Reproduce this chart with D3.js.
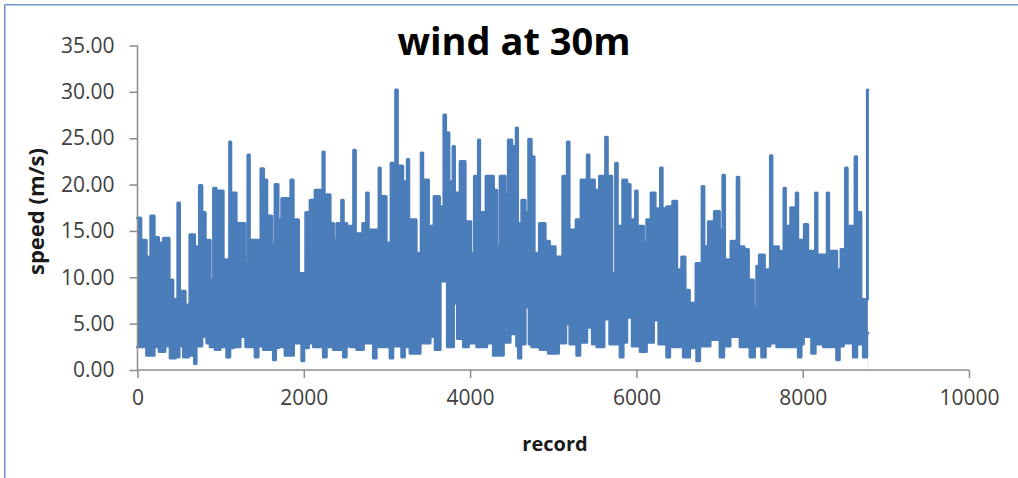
<!DOCTYPE html>
<html>
<head>
<meta charset="utf-8">
<script src="https://cdn.jsdelivr.net/npm/d3@7"></script>
<style>
  html, body { margin: 0; padding: 0; background: #fff; }
  text { font-family: "Open Sans", "Noto Sans", sans-serif; }
</style>
</head>
<body>
<script>
// upper edge of the band (record, speed)
const highRecord = [0,40,105,160,200,253,313,380,425,485,505,573,630,686,745,774,814,874,915,945,970,1030,1108,1122,1186,1290,1328,1345,1485,1515,1555,1615,1655,1690,1735,1845,1872,1936,1996,2024,2076,2136,2230,2245,2316,2357,2397,2455,2475,2517,2600,2620,2709,2755,2775,2905,2920,2990,3050,3105,3125,3190,3245,3262,3351,3412,3430,3499,3567,3631,3685,3705,3745,3795,3812,3880,3940,4008,4052,4100,4115,4192,4281,4321,4361,4421,4460,4501,4555,4570,4622,4662,4705,4735,4770,4834,4902,4954,5023,5115,5170,5190,5275,5335,5410,5430,5495,5556,5630,5650,5704,5750,5770,5836,5884,5924,5990,6010,6085,6125,6177,6225,6290,6310,6365,6437,6485,6545,6585,6637,6717,6790,6812,6866,6938,6998,7040,7060,7138,7212,7232,7295,7347,7407,7447,7479,7539,7612,7630,7708,7775,7792,7856,7922,7940,8020,8060,8155,8172,8295,8312,8409,8461,8515,8535,8630,8648,8700,8778,8784];
const highSpeed = [16.4,14.0,12.2,16.6,14.3,13.7,14.2,9.7,7.6,18.0,8.5,7.0,14.6,13.3,19.9,17.0,14.0,9.7,19.6,16.0,19.3,11.9,24.6,19.1,15.8,11.5,23.2,14.0,21.7,20.5,16.6,13.5,20.0,16.2,18.5,20.5,16.2,10.4,10.1,17.0,18.3,19.4,23.5,18.9,15.8,14.0,15.8,18.3,15.8,15.5,23.7,14.7,15.8,19.1,15.1,21.8,18.7,13.7,22.3,30.2,22.0,20.3,22.7,16.2,12.6,23.4,20.5,15.5,18.7,17.6,27.5,25.6,20.3,24.1,19.1,22.5,16.0,12.6,20.9,24.8,17.0,20.9,19.4,13.3,20.9,18.9,24.8,24.1,26.1,15.8,18.3,17.0,24.9,23.0,12.6,15.8,13.9,13.3,12.2,20.9,24.6,15.1,16.2,20.5,23.2,20.5,19.4,20.9,25.1,20.9,10.4,22.3,15.5,20.5,20.0,16.2,19.3,15.5,13.7,16.2,19.1,17.4,21.8,17.4,17.6,18.2,10.8,12.2,8.6,7.2,11.5,19.8,13.3,16.0,17.1,15.1,21.0,11.9,13.9,20.8,13.3,13.0,9.7,6.8,11.2,12.4,10.8,23.1,13.3,12.8,19.6,15.5,17.5,19.1,14.0,15.7,12.8,19.1,12.4,19.1,12.8,10.8,13.0,21.8,15.5,23.0,17.0,7.6,30.2,30.2];

// lower edge of the band
const lowRecord = [0,110,200,260,330,393,453,500,553,614,660,686,705,774,834,874,934,994,1074,1110,1154,1234,1302,1415,1450,1515,1635,1660,1695,1775,1876,1976,2000,2056,2116,2236,2270,2357,2477,2510,2557,2637,2717,2838,2870,2918,3038,3070,3178,3210,3278,3399,3519,3560,3580,3640,3727,3800,3848,3920,3980,4080,4200,4280,4330,4361,4400,4481,4560,4582,4610,4662,4710,4742,4842,4942,5063,5150,5200,5283,5320,5403,5470,5524,5610,5680,5804,5840,5884,5950,6045,6120,6205,6270,6365,6400,6486,6565,6640,6726,6760,6886,7006,7050,7126,7247,7367,7420,7507,7550,7607,7688,7808,7948,7980,8008,8108,8150,8249,8409,8440,8489,8609,8650,8730,8770,8784];
const lowSpeed = [2.5,1.6,2.5,2.0,2.6,1.3,1.4,2.6,1.4,1.6,2.4,0.7,2.6,3.6,2.9,2.5,2.2,2.5,1.4,2.4,2.5,3.6,2.5,1.4,2.6,2.2,1.1,2.4,2.5,1.6,2.9,1.0,2.4,2.9,2.5,1.4,2.5,2.2,1.4,2.6,2.5,2.2,2.9,1.3,2.5,2.5,1.3,2.6,1.4,2.5,1.8,2.9,3.6,5.4,2.2,9.6,2.5,7.2,3.4,2.5,2.9,2.5,2.9,1.6,2.0,1.6,3.0,3.9,2.6,1.3,2.8,6.8,2.8,2.5,2.2,1.8,2.9,5.0,2.8,1.6,3.0,4.6,2.8,2.5,5.5,2.8,1.4,3.0,5.7,2.6,2.0,3.0,5.4,2.8,1.4,2.5,2.5,1.4,2.4,1.0,2.6,3.3,1.4,2.6,3.6,2.5,1.4,2.6,1.4,2.6,2.9,2.5,2.5,1.4,2.8,3.6,1.8,2.8,2.5,1.1,2.6,2.9,1.4,2.8,1.4,4.0,4.0];

const yTicks = [0,5,10,15,20,25,30,35];
const xTicks = [0,2000,4000,6000,8000,10000];

const W = 1018, H = 478;
const blue = "#4a7dba";
const axisGrey = "#8c8c8c";

const svg = d3.select("body").append("svg")
  .attr("width", W)
  .attr("height", H);

// frame of the chart object (only top and left visible in the crop)
svg.append("line").attr("x1", 4.75).attr("y1", 4.75).attr("x2", W).attr("y2", 4.75)
  .attr("stroke", "#6f91cd").attr("stroke-width", 1.5);
svg.append("line").attr("x1", 4.75).attr("y1", 4.75).attr("x2", 4.75).attr("y2", H)
  .attr("stroke", "#6f91cd").attr("stroke-width", 1.5);

const x = d3.scaleLinear().domain([0, 10000]).range([137.5, 969]);
const y = d3.scaleLinear().domain([0, 35]).range([370, 45.5]);

const high = highRecord.map((r, i) => [r, highSpeed[i]]);
const low = lowRecord.map((r, i) => [r, lowSpeed[i]]);

const g = svg.append("g");

// band: fill under the upper edge, then clear under the lower edge
g.append("path")
  .attr("d", d3.area().curve(d3.curveStepAfter)
    .x(d => x(d[0])).y0(y(0)).y1(d => y(d[1]))(high))
  .attr("fill", blue);
g.append("path")
  .attr("d", d3.area().curve(d3.curveStepAfter)
    .x(d => x(d[0])).y0(y(0) + 10).y1(d => y(d[1]))(low))
  .attr("fill", "#fff");

const line = d3.line().curve(d3.curveStepAfter).x(d => x(d[0])).y(d => y(d[1]));
g.append("path").attr("d", line(high))
  .attr("fill", "none").attr("stroke", blue).attr("stroke-width", 3)
  .attr("stroke-linejoin", "round").attr("stroke-linecap", "round");
g.append("path").attr("d", line(low))
  .attr("fill", "none").attr("stroke", blue).attr("stroke-width", 3)
  .attr("stroke-linejoin", "round").attr("stroke-linecap", "round");

// axes
const yAxis = svg.append("g").attr("transform", `translate(${x(0)},0)`)
  .call(d3.axisLeft(y).tickValues(yTicks).tickSize(8).tickPadding(15)
    .tickFormat(d => d.toFixed(2)));
const xAxis = svg.append("g").attr("transform", `translate(0,${y(0)})`)
  .call(d3.axisBottom(x).tickValues(xTicks).tickSize(8).tickPadding(12)
    .tickFormat(d3.format("d")));

[yAxis, xAxis].forEach(a => {
  a.select(".domain").attr("stroke", axisGrey).attr("stroke-width", 1.5);
  a.selectAll(".tick line").attr("stroke", axisGrey).attr("stroke-width", 1.5);
  a.selectAll(".tick text").attr("fill", "#404040")
    .style("font-size", "21px").style("font-family", "'Open Sans', sans-serif");
});
// x-axis domain without outer tick at start, keep simple line
xAxis.select(".domain").attr("d", `M${x(0)},0H${x(10000)}`);
yAxis.select(".domain").attr("d", `M0,${y(35)}V${y(0)}`);

svg.append("text")
  .attr("x", 514).attr("y", 55)
  .attr("text-anchor", "middle")
  .style("font-size", "38px").style("font-weight", "bold")
  .attr("fill", "#000")
  .text("wind at 30m");

svg.append("text")
  .attr("x", 555).attr("y", 451)
  .attr("text-anchor", "middle")
  .style("font-size", "20px").style("font-weight", "bold")
  .attr("fill", "#1a1a1a")
  .text("record");

svg.append("text")
  .attr("transform", "translate(43.5,211.5) rotate(-90)")
  .attr("text-anchor", "middle")
  .style("font-size", "22px").style("font-weight", "bold")
  .attr("fill", "#1a1a1a")
  .text("speed (m/s)");
</script>
</body>
</html>
